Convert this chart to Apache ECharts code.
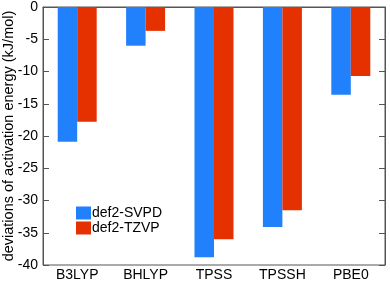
<!DOCTYPE html>
<html><head><meta charset="utf-8">
<script src="https://cdn.jsdelivr.net/npm/echarts@6/dist/echarts.min.js"></script>
<style>html,body{margin:0;padding:0;background:#fff}#c{width:390px;height:281px}</style>
</head><body><div id="c"></div>
<script>
var categories = ['B3LYP','BHLYP','TPSS','TPSSH','PBE0'];
var svpd = [-20.9, -6.0, -38.8, -34.1, -13.6];
var tzvp = [-17.8, -3.7, -36.0, -31.5, -10.7];
var yTicks = [0,-5,-10,-15,-20,-25,-30,-35,-40];
var chart = echarts.init(document.getElementById('c'));
var font = 'Liberation Sans, Arial, sans-serif';
chart.setOption({
  animation:false,
  grid:{left:43,right:5,top:7,bottom:16,show:true,borderColor:'#555',borderWidth:1,
    outerBoundsMode:'none',containLabel:false},
  legend:{left:76,top:206,padding:0,orient:'vertical',itemWidth:15,itemHeight:13,itemGap:1,
    textStyle:{fontFamily:font,fontSize:14,color:'#000',padding:[0,0,0,-4]},
    icon:'rect',data:['def2-SVPD','def2-TZVP']},
  xAxis:{type:'category',data:categories,position:'bottom',
    axisLine:{lineStyle:{color:'#555'}},
    axisTick:{inside:true,alignWithLabel:true,length:6,lineStyle:{color:'#555'}},
    axisLabel:{fontFamily:font,fontSize:14,color:'#000',margin:3}},
  yAxis:[{type:'value',min:-40,max:0,interval:5,
    name:'deviations of activation energy (kJ/mol)',nameLocation:'middle',nameGap:27,
    nameMoveOverlap:false,
    nameTextStyle:{fontFamily:font,fontSize:14.5,color:'#000'},
    axisLine:{show:true,lineStyle:{color:'#555'}},
    axisTick:{show:true,inside:true,length:6,lineStyle:{color:'#555'}},
    splitLine:{show:false},
    axisLabel:{fontFamily:font,fontSize:14,color:'#000',margin:5,
      formatter:function(v){return yTicks.indexOf(v)>=0?String(v):'';}}},
   {type:'value',min:-40,max:0,interval:5,position:'right',
    axisLine:{show:true,lineStyle:{color:'#555'}},
    axisTick:{show:true,inside:true,length:6,lineStyle:{color:'#555'}},
    splitLine:{show:false},axisLabel:{show:false}}],
  series:[
    {name:'def2-SVPD',type:'bar',data:svpd,barGap:'0%',barCategoryGap:'43%',
     itemStyle:{color:'#2180fc'}},
    {name:'def2-TZVP',type:'bar',data:tzvp,barGap:'0%',barCategoryGap:'43%',
     itemStyle:{color:'#e53000'}}
  ]
});
</script></body></html>
